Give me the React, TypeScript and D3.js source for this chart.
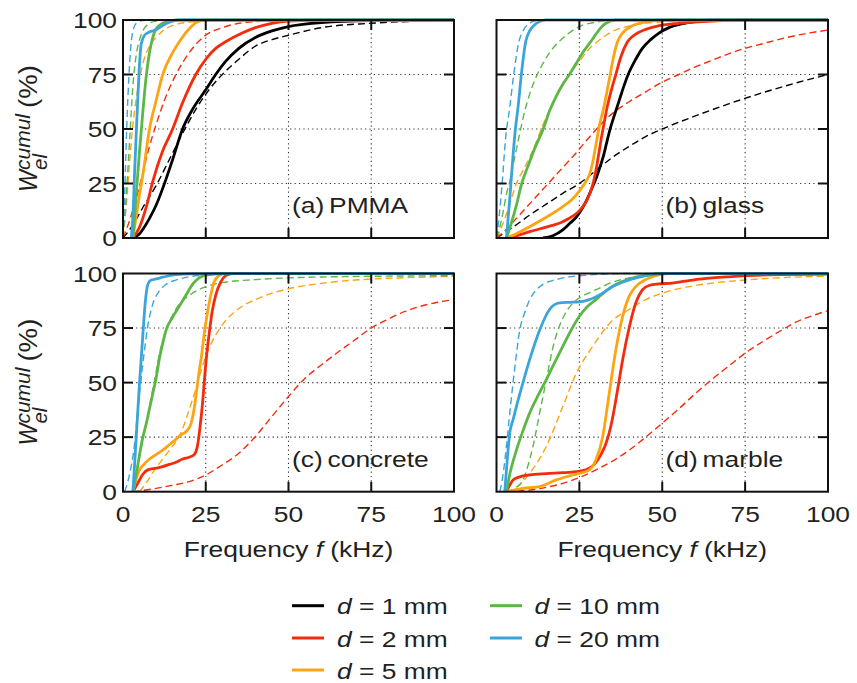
import React from 'react';
import * as d3 from 'd3';

type Pt = [number, number];

const sizeLabels = ['1 mm', '2 mm', '5 mm', '10 mm', '20 mm'];
const seriesColors = ['#000000', '#f42b0c', '#fda412', '#5cb746', '#3aa5da'];
const xTicks = [0, 25, 50, 75, 100];
const yTicks = [0, 25, 50, 75, 100];
const panelTags = ['(a)', '(b)', '(c)', '(d)'];
const panelNames = ['PMMA', 'glass', 'concrete', 'marble'];

// ---------- (a) PMMA ----------
const pmmaSolid1: Pt[] = [[3, 0], [5, 2], [8, 9], [10, 15], [13, 27], [15, 36], [18, 50], [21, 59], [25, 68], [28, 75], [31, 81], [35, 87], [40, 92], [45, 95], [50, 97], [60, 98.8], [75, 99.7], [100, 100]];
const pmmaDash1: Pt[] = [[0, 0], [3, 6], [6, 14], [10, 24], [14, 36], [18, 48], [22, 59], [26, 68], [30, 75], [35, 82], [40, 88], [45, 91], [50, 93], [60, 96.5], [75, 98.5], [100, 99.8]];
const pmmaSolid2: Pt[] = [[3, 0], [5, 5], [7, 14], [9, 26], [12, 40], [15, 50], [18, 62], [22, 75], [25, 82], [28, 87], [31, 90], [36, 94], [40, 96.5], [45, 98.5], [50, 99.5], [60, 100], [100, 100]];
const pmmaDash2: Pt[] = [[0, 0], [2, 8], [4, 18], [6, 30], [8, 42], [10, 52], [13, 65], [16, 75], [20, 85], [25, 93], [30, 96.5], [35, 98.5], [40, 99.3], [50, 99.8], [100, 100]];
const pmmaSolid3: Pt[] = [[3, 0], [4, 10], [5, 20], [6, 29], [8, 50], [10, 63], [12, 75], [15, 85], [17, 90], [20, 96], [23, 99.5], [26, 100], [100, 100]];
const pmmaDash3: Pt[] = [[0, 0], [1, 15], [2, 35], [3, 52], [4, 64], [5, 73], [6, 80], [8, 88], [10, 92], [12, 95], [15, 97.5], [20, 99], [30, 100], [100, 100]];
const pmmaSolid4: Pt[] = [[3, 0], [4, 20], [5, 40], [6, 58], [7, 74], [8, 85], [9, 92], [10, 96], [12, 98.5], [14, 99.5], [17, 100], [100, 100]];
const pmmaDash4: Pt[] = [[0, 0], [1, 20], [2, 45], [3, 70], [4, 84], [5, 91], [6, 95], [8, 98.5], [10, 99.5], [15, 100], [100, 100]];
const pmmaSolid5: Pt[] = [[2.5, 0], [3, 10], [3.5, 30], [4, 48], [4.5, 65], [5, 80], [5.5, 89], [6.5, 93], [8, 94.5], [10, 95.5], [12, 97.5], [14, 99], [17, 100], [100, 100]];
const pmmaDash5: Pt[] = [[0, 0], [0.5, 20], [1, 45], [1.5, 65], [2, 80], [2.5, 90], [3, 95], [4, 98.5], [6, 99.8], [10, 100], [100, 100]];

// ---------- (b) glass ----------
const glassSolid1: Pt[] = [[14, 0], [17, 1], [20, 3.7], [22, 6.5], [24.2, 9.8], [26, 14], [27.2, 17.4], [28.7, 22.5], [30.2, 28], [31.2, 32.5], [32.2, 37.3], [33.2, 43.5], [34.2, 49.6], [35.5, 56], [37, 63], [38.5, 70], [40, 76], [42, 82], [44, 87], [46.5, 91], [49, 94], [52, 96.5], [56, 98.3], [60, 99.3], [65, 100], [100, 100]];
const glassDash1: Pt[] = [[0, 0], [5, 5], [10, 10.5], [15, 15.5], [20, 20.5], [25, 25], [30, 31], [35, 37], [40, 42], [45, 46.5], [50, 50], [60, 56], [70, 61.5], [80, 66.5], [90, 71], [100, 75]];
const glassSolid2: Pt[] = [[3.5, 0], [6, 1], [10, 2.9], [15, 5], [20, 7.5], [23, 10], [25.2, 12.8], [27, 16.5], [28.2, 20.5], [29.3, 26], [30.2, 32.7], [31, 40], [31.7, 46.5], [32.5, 53], [33.2, 58.7], [34.5, 67], [36, 75], [37.5, 83], [39.5, 90], [42, 93.5], [45, 95.7], [48, 97], [55, 98.5], [65, 99.5], [75, 100], [100, 100]];
const glassDash2: Pt[] = [[0, 0], [3, 4], [6, 9], [9, 14], [12, 19], [15.6, 25], [18, 29], [21, 34], [24, 39], [27, 44.5], [30.2, 50], [33, 54.5], [36.3, 58.7], [40, 62.5], [45, 67], [50, 71.5], [55, 75], [60, 78.5], [65, 81.5], [70, 84.5], [75, 87], [80, 89], [85, 91], [90, 92.8], [95, 94.2], [100, 95.4]];
const glassSolid3: Pt[] = [[3, 0], [6, 2], [10, 5.2], [15, 9.5], [20, 14.4], [23, 18], [25.2, 22], [27, 26], [28.2, 29.7], [29, 34.5], [29.7, 40.4], [30.5, 47], [31.2, 52.6], [32.2, 58.7], [33.3, 67], [34.3, 75], [35.3, 83], [36.5, 90], [38, 94], [40.5, 97], [44, 98.8], [49, 100], [100, 100]];
const glassDash3: Pt[] = [[0, 0], [1.5, 5], [3, 11], [4.5, 18], [6, 25], [8, 31], [10, 37], [12, 44], [13.5, 50], [14.6, 54], [16.5, 60], [18.5, 66], [21.9, 75], [25, 81], [27.5, 86], [30.4, 90], [33, 93], [36, 95.5], [39.5, 97], [45, 98.5], [53.6, 99.5], [60, 100], [100, 100]];
const glassSolid4: Pt[] = [[3, 0], [4.5, 7], [6, 15], [7.6, 25], [9.5, 33], [11.5, 41], [14.1, 50], [16.1, 58.7], [18, 65], [20, 70.5], [22, 75], [24, 80], [26, 85], [28.4, 90], [30, 93.5], [31.5, 96.5], [33, 98.5], [36, 100], [100, 100]];
const glassDash4: Pt[] = [[0, 0], [1, 5], [2, 12], [3, 20], [4, 26], [5.5, 37], [7, 48], [8.6, 58.7], [10, 66], [12.3, 75], [14, 80], [16, 85], [18.8, 90], [21, 93], [25, 97], [30, 99], [35, 100], [100, 100]];
const glassSolid5: Pt[] = [[3, 0], [4, 18], [5, 38], [5.7, 50], [6.5, 60], [7.5, 75], [8.8, 90], [10, 95], [11.3, 97.5], [13, 99.3], [15, 100], [100, 100]];
const glassDash5: Pt[] = [[0, 0], [0.8, 10], [1.7, 25], [2.7, 45], [4, 60], [5.2, 75], [6.75, 90], [8, 95], [9.5, 98], [11, 99.3], [14, 100], [100, 100]];

// ---------- (c) concrete ----------
const concSolid2: Pt[] = [[3, 0], [4.5, 4], [6, 8], [7.5, 10], [10, 10.8], [12, 11.5], [14, 12.5], [16, 13.5], [18, 15], [20, 15.8], [21.5, 17], [22.5, 21], [23.3, 30], [24, 40], [24.7, 53], [25.3, 63], [26, 72], [27, 83], [28, 90], [29.5, 96], [31, 99], [33, 100], [100, 100]];
const concDash2: Pt[] = [[3, 0], [10, 1.5], [15, 3], [20, 4.6], [25, 7.7], [30, 12.3], [35, 17.6], [40, 25.3], [45, 34.5], [50, 43.6], [55, 52], [60, 58.2], [65, 64], [70, 69.5], [75, 75], [80, 79], [85, 82.5], [90, 85], [95, 86.8], [100, 88]];
const concSolid3: Pt[] = [[3, 0], [4, 6], [5, 10], [6, 12], [8, 15], [10, 17], [12, 19], [14, 21.5], [16, 24], [17.5, 26], [19, 27.5], [20.5, 31], [21.5, 38], [22.3, 47], [23, 55], [23.7, 62], [24.5, 72], [25.5, 82], [26.5, 90], [27.5, 96], [29, 99], [31, 100], [100, 100]];
const concDash3: Pt[] = [[5, 0], [7, 4], [10, 11], [12, 15], [14, 19], [16, 23], [17.5, 27], [19, 33], [20.5, 40], [22, 47], [23.5, 55], [25, 62], [27, 69], [29.3, 75], [32, 80], [36, 85], [40, 88], [45, 91], [50, 93], [60, 95.5], [70, 97], [80, 97.8], [90, 98.3], [100, 98.7]];
const concSolid4: Pt[] = [[3, 0], [4, 8], [5, 17], [6, 25], [7, 31], [8, 38], [9, 45], [10, 52], [11, 61], [12, 68], [13, 74], [15, 80], [17, 85], [19, 90], [21, 95], [23, 98], [25, 99.3], [30, 100], [100, 100]];
const concDash4: Pt[] = [[3, 0], [4, 8], [5, 16], [6, 24], [7, 31], [8, 39], [9, 47], [10, 55], [11, 63], [12, 69], [13, 74], [15, 81], [17, 86], [20, 90], [25, 94], [30, 95.8], [40, 97.2], [50, 98], [60, 98.4], [80, 98.8], [100, 99]];
const concSolid5: Pt[] = [[3, 0], [4, 25], [5, 50], [6, 72], [6.8, 88], [7.5, 95], [8.5, 97], [10, 97.5], [12, 98.3], [15, 99.3], [20, 99.8], [30, 100], [100, 100]];
const concDash5: Pt[] = [[0.5, 0], [2, 8], [3.5, 22], [4.5, 38], [5.5, 52], [6.5, 65], [7.5, 76], [9, 86], [11, 92], [13, 95], [16, 97], [20, 98.5], [25, 99.3], [35, 100], [100, 100]];

// ---------- (d) marble ----------
const marbSolid2: Pt[] = [[3, 0], [4, 3], [5, 5.4], [7, 6.8], [10, 7.7], [15, 8.3], [20, 8.7], [24, 9.2], [27, 10], [29.5, 12.5], [31.5, 17], [33, 22], [34.5, 30], [36, 42], [37, 51], [38, 60], [40, 75], [42, 86.5], [44, 92.5], [46, 94.5], [49, 95.2], [53, 95.6], [57, 96.5], [62, 97.5], [70, 98.5], [80, 99.3], [100, 99.7]];
const marbDash2: Pt[] = [[3, 0], [10, 0.8], [15, 2], [20, 3.8], [25, 6.5], [30, 10], [35, 14], [40, 19], [45, 25], [50, 31.4], [55, 38], [60, 45], [65, 51.5], [70, 57.5], [75, 63.5], [80, 68.5], [86, 74], [90, 77.5], [95, 80.5], [100, 83]];
const marbSolid3: Pt[] = [[3, 0], [8, 1.5], [13, 2.3], [18, 5.4], [23, 7.7], [28, 10], [30, 14.6], [32, 25], [34, 45], [36, 65], [38, 80], [40, 89.5], [42, 94], [45, 97.2], [48, 99], [52, 100], [100, 100]];
const marbDash3: Pt[] = [[3, 0], [6, 2], [10, 8.4], [15, 20.7], [20, 39], [24, 54], [29, 66.6], [35, 78.5], [40, 83.5], [45, 88], [50, 91], [60, 94.5], [75, 97], [100, 98.8]];
const marbSolid4: Pt[] = [[3, 0], [4, 8], [6, 19], [8, 28], [10, 36], [12.5, 44], [15, 51.3], [17.5, 59], [20, 66.6], [22.5, 74], [25, 80.4], [27.5, 85], [30, 88], [33, 92], [36, 95], [40, 97.5], [45, 99.3], [50, 100], [100, 100]];
const marbDash4: Pt[] = [[3, 0], [6, 2], [8, 5.4], [9.5, 12], [11, 20.7], [13, 36], [15, 51], [17, 66], [19, 76], [20.5, 81], [22.5, 85.5], [24.5, 88.3], [27, 90.5], [30, 92.6], [35, 96], [40, 98], [50, 99.5], [60, 100], [100, 100]];
const marbSolid5: Pt[] = [[2.5, 0], [3, 10], [4, 27], [5, 33], [6, 39], [8, 50], [10, 60.5], [13, 74], [16, 83.5], [19, 86.5], [22, 86.8], [25, 87], [28, 88], [32, 91], [35, 94], [38, 96], [41, 97.5], [45, 99], [50, 100], [100, 100]];
const marbDash5: Pt[] = [[1, 0], [2, 8], [3, 21], [4, 36], [5, 50], [6, 63], [7, 74], [8.5, 82], [10, 88], [12, 92.5], [14, 95], [18, 97.2], [25, 99], [40, 100], [100, 100]];

const panelSolids: (Pt[] | null)[][] = [
  [pmmaSolid1, pmmaSolid2, pmmaSolid3, pmmaSolid4, pmmaSolid5],
  [glassSolid1, glassSolid2, glassSolid3, glassSolid4, glassSolid5],
  [null, concSolid2, concSolid3, concSolid4, concSolid5],
  [null, marbSolid2, marbSolid3, marbSolid4, marbSolid5],
];
const panelDashes: (Pt[] | null)[][] = [
  [pmmaDash1, pmmaDash2, pmmaDash3, pmmaDash4, pmmaDash5],
  [glassDash1, glassDash2, glassDash3, glassDash4, glassDash5],
  [null, concDash2, concDash3, concDash4, concDash5],
  [null, marbDash2, marbDash3, marbDash4, marbDash5],
];

// ---------- layout ----------
const W = 857;
const H = 683;
const colX = [[123, 454], [496.5, 828]];
const rowY = [[20, 238], [273.5, 491.7]];
const FONT = '"Liberation Sans", Arial, Helvetica, sans-serif';
const TXT = '#231f20';
const SX = 1.2;

function Panel({ idx }: { idx: number }) {
  const col = idx % 2;
  const row = Math.floor(idx / 2);
  const [x0, x1] = colX[col];
  const [y0, y1] = rowY[row];
  const xs = d3.scaleLinear().domain([0, 100]).range([x0, x1]);
  const ys = d3.scaleLinear().domain([0, 100]).range([y1, y0]);
  const line = d3
    .line<Pt>()
    .x((d) => xs(d[0]))
    .y((d) => ys(d[1]))
    .curve(d3.curveMonotoneX);
  const clipId = `clip${idx}`;
  const tickLen = 10;
  const inner = [25, 50, 75];
  return (
    <g>
      <defs>
        <clipPath id={clipId}>
          <rect x={x0} y={y0 - 2} width={x1 - x0} height={y1 - y0 + 2} />
        </clipPath>
      </defs>
      {/* grid */}
      {inner.map((t) => (
        <line key={'gx' + t} x1={xs(t)} x2={xs(t)} y1={y0} y2={y1} stroke="#333" strokeWidth={1.1} strokeDasharray="1.2,3.2" />
      ))}
      {inner.map((t) => (
        <line key={'gy' + t} x1={x0} x2={x1} y1={ys(t)} y2={ys(t)} stroke="#333" strokeWidth={1.1} strokeDasharray="1.2,3.2" />
      ))}
      {/* curves */}
      <g clipPath={`url(#${clipId})`}>
        {panelDashes[idx].map((s, i) =>
          s ? (
            <path key={'d' + i} d={line(s) || ''} fill="none" stroke={seriesColors[i]} strokeWidth={1.4} strokeDasharray="7,4" />
          ) : null
        )}
        {panelSolids[idx].map((s, i) =>
          s ? (
            <path key={'s' + i} d={line(s) || ''} fill="none" stroke={seriesColors[i]} strokeWidth={2.8} strokeLinejoin="round" />
          ) : null
        )}
      </g>
      {/* frame */}
      <rect x={x0} y={y0} width={x1 - x0} height={y1 - y0} fill="none" stroke="#111" strokeWidth={2} />
      {/* ticks inward */}
      {inner.map((t) => (
        <g key={'t' + t}>
          <line x1={xs(t)} x2={xs(t)} y1={y1} y2={y1 - tickLen} stroke="#111" strokeWidth={2} />
          <line x1={xs(t)} x2={xs(t)} y1={y0} y2={y0 + tickLen} stroke="#111" strokeWidth={2} />
          <line x1={x0} x2={x0 + tickLen} y1={ys(t)} y2={ys(t)} stroke="#111" strokeWidth={2} />
          <line x1={x1} x2={x1 - tickLen} y1={ys(t)} y2={ys(t)} stroke="#111" strokeWidth={2} />
        </g>
      ))}
      {/* tick labels */}
      {col === 0 &&
        yTicks.map((t) => (
          <text key={'yl' + t} transform={`translate(${x0 - 6},${ys(t) + 8}) scale(${SX},1)`} textAnchor="end" fontSize={22} fontFamily={FONT} fill={TXT}>
            {t}
          </text>
        ))}
      {row === 1 &&
        xTicks.map((t) => (
          <text key={'xl' + t} transform={`translate(${xs(t)},${y1 + 30}) scale(${SX},1)`} textAnchor="middle" fontSize={22} fontFamily={FONT} fill={TXT}>
            {t}
          </text>
        ))}
      {/* panel label */}
      <text transform={`translate(${x0 + 169},${y1 - 25}) scale(${SX},1)`} fontSize={22} fontFamily={FONT} fill={TXT}>
        {panelTags[idx]}
        <tspan dx={4}>{panelNames[idx]}</tspan>
      </text>
      {/* x axis title */}
      {row === 1 && (
        <text transform={`translate(${(x0 + x1) / 2},${y1 + 65}) scale(${SX},1)`} textAnchor="middle" fontSize={22} fontFamily={FONT} fill={TXT}>
          Frequency <tspan fontStyle="italic">f</tspan> (kHz)
        </text>
      )}
      {/* y axis title */}
      {col === 0 && <YLabel shift={(y0 + y1) / 2 - 129} />}
    </g>
  );
}

function YLabel({ shift }: { shift: number }) {
  const rot = (sx: number, sy: number) => `translate(${sx},${sy + shift}) rotate(-90) scale(1,1.18)`;
  return (
    <g fontFamily={FONT} fill={TXT}>
      <text transform={rot(37, 192)} fontSize={22} fontStyle="italic" textLength={22} lengthAdjust="spacingAndGlyphs">W</text>
      <text transform={rot(30, 170)} fontSize={17} fontStyle="italic" textLength={56} lengthAdjust="spacingAndGlyphs">cumul</text>
      <text transform={rot(47, 170)} fontSize={17} fontStyle="italic" textLength={16} lengthAdjust="spacingAndGlyphs">el</text>
      <text transform={rot(37, 108)} fontSize={22} textLength={43} lengthAdjust="spacingAndGlyphs">(%)</text>
    </g>
  );
}

function Legend() {
  const rowsY = [605.7, 638, 670];
  const cols = [
    { lx: 292, tx: 337 },
    { lx: 490, tx: 534.5 },
  ];
  const slots = [
    [0, 0], [0, 1], [0, 2], [1, 0], [1, 1],
  ];
  return (
    <g>
      {sizeLabels.map((lab, i) => {
        const [c, r] = slots[i];
        const y = rowsY[r];
        const { lx, tx } = cols[c];
        return (
          <g key={lab}>
            <line x1={lx} x2={lx + 32} y1={y} y2={y} stroke={seriesColors[i]} strokeWidth={3} />
            <text transform={`translate(${tx},${y + 8.5}) scale(${SX},1)`} fontSize={22} fontFamily={FONT} fill={TXT}>
              <tspan fontStyle="italic">d</tspan> = {lab}
            </text>
          </g>
        );
      })}
    </g>
  );
}

export default function App() {
  return (
    <svg width={W} height={H} viewBox={`0 0 ${W} ${H}`} style={{ position: 'absolute', left: 0, top: 0, background: '#fff' }}>
      <rect width={W} height={H} fill="#fff" />
      {[0, 1, 2, 3].map((i) => (
        <Panel key={i} idx={i} />
      ))}
      <Legend />
    </svg>
  );
}
